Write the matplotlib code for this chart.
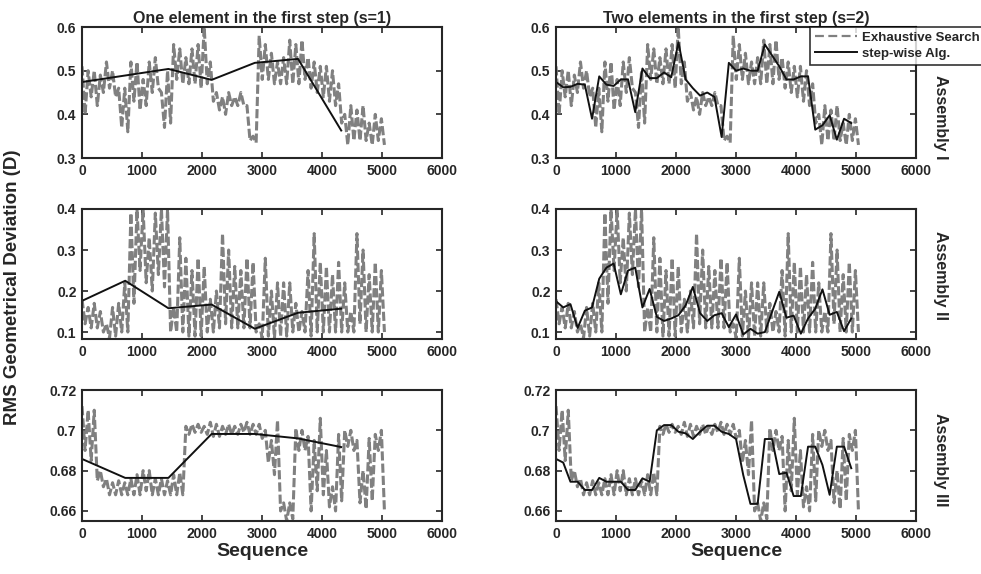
import numpy as np
import matplotlib
matplotlib.use('Agg')
import matplotlib.pyplot as plt

# ---- exhaustive search: band, one hi/lo pair per 100 sequences ----
ex1_hi = [0.51, 0.50, 0.50, 0.49, 0.52, 0.50, 0.46, 0.46, 0.52, 0.52,
          0.48, 0.52, 0.53, 0.45, 0.50, 0.56, 0.55, 0.53, 0.55, 0.56,
          0.60, 0.52, 0.45, 0.44, 0.45, 0.44, 0.45, 0.42, 0.35, 0.58,
          0.56, 0.54, 0.52, 0.53, 0.57, 0.56, 0.57, 0.53, 0.52, 0.51,
          0.51, 0.50, 0.47, 0.40, 0.42, 0.41, 0.42, 0.38, 0.40, 0.39]
ex1_lo = [0.40, 0.44, 0.42, 0.45, 0.46, 0.44, 0.37, 0.36, 0.43, 0.41,
          0.42, 0.45, 0.46, 0.37, 0.38, 0.48, 0.47, 0.47, 0.47, 0.46,
          0.47, 0.43, 0.41, 0.40, 0.42, 0.42, 0.42, 0.34, 0.335, 0.48,
          0.48, 0.47, 0.47, 0.47, 0.47, 0.47, 0.48, 0.46, 0.45, 0.44,
          0.43, 0.42, 0.38, 0.33, 0.34, 0.34, 0.34, 0.33, 0.34, 0.33]

ex2_hi = [0.18, 0.16, 0.17, 0.15, 0.12, 0.16, 0.17, 0.22, 0.39, 0.40,
          0.40, 0.33, 0.39, 0.40, 0.40, 0.16, 0.33, 0.28, 0.25, 0.28,
          0.26, 0.18, 0.20, 0.34, 0.30, 0.26, 0.25, 0.28, 0.27, 0.12,
          0.28, 0.20, 0.22, 0.22, 0.22, 0.17, 0.15, 0.25, 0.34, 0.27,
          0.26, 0.24, 0.27, 0.22, 0.15, 0.34, 0.30, 0.24, 0.27, 0.25]
ex2_lo = [0.12, 0.11, 0.11, 0.10, 0.085, 0.09, 0.10, 0.10, 0.17, 0.25,
          0.22, 0.20, 0.24, 0.21, 0.10, 0.10, 0.10, 0.09, 0.09, 0.09,
          0.10, 0.10, 0.11, 0.12, 0.11, 0.11, 0.11, 0.11, 0.10, 0.085,
          0.09, 0.085, 0.09, 0.09, 0.10, 0.10, 0.10, 0.09, 0.10, 0.10,
          0.10, 0.10, 0.10, 0.10, 0.10, 0.12, 0.10, 0.10, 0.10, 0.10]

ex3_hi = [0.712, 0.710, 0.710, 0.680, 0.676, 0.674, 0.675, 0.674, 0.676, 0.678,
          0.680, 0.680, 0.676, 0.676, 0.675, 0.678, 0.679, 0.702, 0.703, 0.703,
          0.702, 0.704, 0.703, 0.702, 0.703, 0.702, 0.703, 0.704, 0.703, 0.703,
          0.700, 0.695, 0.705, 0.664, 0.664, 0.701, 0.700, 0.697, 0.695, 0.706,
          0.690, 0.672, 0.698, 0.700, 0.700, 0.695, 0.680, 0.696, 0.698, 0.700]
ex3_lo = [0.690, 0.685, 0.675, 0.672, 0.668, 0.668, 0.668, 0.668, 0.668, 0.668,
          0.670, 0.668, 0.668, 0.668, 0.668, 0.668, 0.668, 0.698, 0.699, 0.699,
          0.698, 0.697, 0.697, 0.698, 0.698, 0.698, 0.699, 0.698, 0.698, 0.696,
          0.684, 0.678, 0.660, 0.655, 0.656, 0.690, 0.690, 0.660, 0.670, 0.668,
          0.662, 0.660, 0.665, 0.692, 0.690, 0.664, 0.661, 0.665, 0.690, 0.660]

# ---- step-wise algorithm ----
seq_s1 = [0, 720, 1440, 2160, 2880, 3600, 4320]
sw1_s1 = [0.474, 0.489, 0.504, 0.479, 0.518, 0.527, 0.363]
sw2_s1 = [0.176, 0.225, 0.158, 0.167, 0.108, 0.147, 0.157]
sw3_s1 = [0.6858, 0.6764, 0.6764, 0.6982, 0.6982, 0.6960, 0.6917]

seq_s2 = list(range(0, 5000, 120))
sw1_s2 = [0.474, 0.462, 0.463, 0.470, 0.468, 0.390, 0.487, 0.468, 0.465, 0.480,
          0.480, 0.405, 0.505, 0.483, 0.483, 0.496, 0.485, 0.565, 0.480, 0.460,
          0.443, 0.450, 0.440, 0.348, 0.518, 0.500, 0.505, 0.500, 0.500, 0.560,
          0.535, 0.510, 0.480, 0.480, 0.487, 0.487, 0.365, 0.375, 0.398, 0.342,
          0.390, 0.380]
sw2_s2 = [0.175, 0.160, 0.168, 0.110, 0.152, 0.160, 0.230, 0.257, 0.267, 0.192,
          0.250, 0.257, 0.160, 0.205, 0.137, 0.127, 0.133, 0.141, 0.165, 0.210,
          0.146, 0.127, 0.141, 0.146, 0.112, 0.143, 0.094, 0.108, 0.096, 0.100,
          0.149, 0.198, 0.135, 0.140, 0.096, 0.133, 0.157, 0.204, 0.142, 0.149,
          0.102, 0.133]
sw3_s2 = [0.6858, 0.6840, 0.6745, 0.6745, 0.6704, 0.6704, 0.6764, 0.6745, 0.6745, 0.6745,
          0.6704, 0.6704, 0.6762, 0.6745, 0.7000, 0.7026, 0.7026, 0.6993, 0.6985, 0.6957,
          0.6993, 0.7023, 0.7023, 0.6993, 0.6982, 0.6957, 0.6778, 0.6635, 0.6635, 0.6957,
          0.6957, 0.6783, 0.6790, 0.6674, 0.6674, 0.6919, 0.6919, 0.6828, 0.6680, 0.6919,
          0.6919, 0.6812]

titles = ['One element in the first step (s=1)', 'Two elements in the first step (s=2)']
row_names = ['Assembly I', 'Assembly II', 'Assembly III']
ylims = [(0.3, 0.6), (0.083, 0.4), (0.655, 0.72)]
yticks = [[0.3, 0.4, 0.5, 0.6], [0.1, 0.2, 0.3, 0.4], [0.66, 0.68, 0.70, 0.72]]
yticklabels = [['0.3', '0.4', '0.5', '0.6'], ['0.1', '0.2', '0.3', '0.4'],
               ['0.66', '0.68', '0.7', '0.72']]
xticks = [0, 1000, 2000, 3000, 4000, 5000, 6000]


def zigzag(hi, lo):
    ''' interleave the read hi/lo values into one trace '''
    y = np.empty(2 * len(hi))
    y[0::2] = hi
    y[1::2] = lo
    x = np.linspace(0, 5040, len(y))
    return x, y


plt.rcParams['font.family'] = ['Liberation Sans', 'DejaVu Sans']
plt.rcParams['font.weight'] = 'bold'
dark = '#262626'
gray = '#808080'

fig = plt.figure(figsize=(9.81, 5.74), dpi=100)
lefts = [0.0836, 0.5668]
bottoms = [0.7247, 0.4094, 0.0923]
heights = [0.2282, 0.2265, 0.2282]
label_y = [0.31, 0.49, 0.47]

exh = [(ex1_hi, ex1_lo), (ex2_hi, ex2_lo), (ex3_hi, ex3_lo)]
step1 = [sw1_s1, sw2_s1, sw3_s1]
step2 = [sw1_s2, sw2_s2, sw3_s2]

for r in range(3):
    for c in range(2):
        ax = fig.add_axes([lefts[c], bottoms[r], 0.367, heights[r]])
        x, y = zigzag(*exh[r])
        ax.plot(x, y, '--', color=gray, lw=2.2, dashes=(3, 1), label='Exhaustive Search')
        if c == 0:
            ax.plot(seq_s1, step1[r], '-', color='#111111', lw=1.4, label='step-wise Alg.')
        else:
            ax.plot(seq_s2, step2[r], '-', color='#111111', lw=1.4, label='step-wise Alg.')
        ax.set_xlim(0, 6000)
        ax.set_ylim(*ylims[r])
        ax.set_xticks(xticks)
        ax.set_xticklabels([str(t) for t in xticks])
        ax.set_yticks(yticks[r])
        ax.set_yticklabels(yticklabels[r])
        ax.tick_params(direction='in', top=True, right=True, length=4, width=1.2,
                       labelsize=10, colors=dark, pad=4)
        for lab in ax.get_xticklabels() + ax.get_yticklabels():
            lab.set_fontweight('bold')
        for sp in ax.spines.values():
            sp.set_linewidth(1.5)
            sp.set_color(dark)
        if r == 0:
            ax.set_title(titles[c], fontsize=11.5, fontweight='bold', color=dark, pad=3)
        if r == 2:
            ax.set_xlabel('Sequence', fontsize=14, fontweight='bold', color=dark, labelpad=2)
        if c == 1:
            ax.text(1.067, label_y[r], row_names[r], transform=ax.transAxes, rotation=270,
                    ha='center', va='center', fontsize=11.5, fontweight='bold', color=dark)
        if r == 0 and c == 1:
            leg = ax.legend(loc='upper left', bbox_to_anchor=(810 / 981, 1 - 27 / 574),
                            bbox_transform=fig.transFigure, fontsize=9.5, frameon=True,
                            fancybox=False, borderpad=0.35, labelspacing=0.3,
                            handlelength=3.2, handletextpad=0.4, borderaxespad=0)
            leg.get_frame().set_edgecolor('black')
            leg.get_frame().set_linewidth(1.2)
            leg.get_lines()[0].set_linewidth(1.6)
            leg.get_lines()[0].set_dashes((4, 2))
            for t in leg.get_texts():
                t.set_fontweight('bold')
                t.set_color(dark)

fig.text(0.013, 0.5, 'RMS Geometrical Deviation (D)', rotation=90, ha='center', va='center',
         fontsize=13.5, fontweight='bold', color=dark)

fig.savefig('out.png', dpi=100)
